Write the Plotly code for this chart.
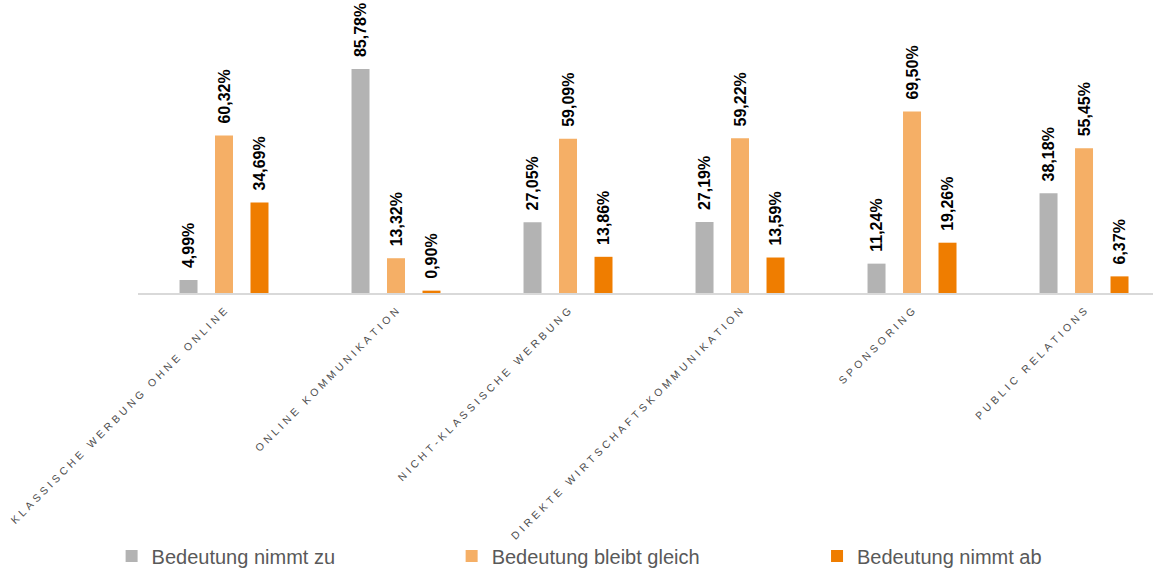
import plotly.graph_objects as go

categories = [
    "KLASSISCHE WERBUNG OHNE ONLINE",
    "ONLINE KOMMUNIKATION",
    "NICHT-KLASSISCHE WERBUNG",
    "DIREKTE WIRTSCHAFTSKOMMUNIKATION",
    "SPONSORING",
    "PUBLIC RELATIONS",
]
nimmt_zu = [4.99, 85.78, 27.05, 27.19, 11.24, 38.18]
bleibt_gleich = [60.32, 13.32, 59.09, 59.22, 69.50, 55.45]
nimmt_ab = [34.69, 0.90, 13.86, 13.59, 19.26, 6.37]

series = [
    ("Bedeutung nimmt zu", nimmt_zu, "#b3b3b3", "legend", -0.026),
    ("Bedeutung bleibt gleich", bleibt_gleich, "#f5af66", "legend2", 0.309),
    ("Bedeutung nimmt ab", nimmt_ab, "#ef7d00", "legend3", 0.669),
]


def letterspaced(label):
    # widen tracking of the axis captions
    out = []
    for word in label.split(" "):
        out.append("\u2004".join(word))
    return "\u2004\u00a0\u2004".join(out)


tick_text = [letterspaced(c) for c in categories]

fig = go.Figure()
legend_layouts = {}
for name, values, color, legend_id, legend_x in series:
    fig.add_trace(go.Bar(
        x=list(range(len(categories))),
        y=values,
        name=name,
        legend=legend_id,
        marker=dict(color=color, line=dict(width=0)),
        texttemplate="\u00a0\u00a0%{y:.2f}%",
        textposition="outside",
        textangle=-90,
        constraintext="none",
        cliponaxis=False,
        textfont=dict(family="Liberation Sans, Arial", size=16, color="#000000", weight="bold"),
    ))
    legend_layouts[legend_id] = dict(
        orientation="h",
        x=legend_x,
        xanchor="left",
        y=-0.8976,
        yanchor="middle",
        bgcolor="rgba(0,0,0,0)",
        font=dict(size=20, color="#595959"),
        itemwidth=30,
    )

fig.update_layout(
    width=1153,
    height=569,
    margin=dict(l=138, r=0, t=0, b=276, autoexpand=False),
    barmode="group",
    bargap=0.381,
    bargroupgap=0.493,
    separators=",.",
    plot_bgcolor="#ffffff",
    paper_bgcolor="#ffffff",
    font=dict(family="Liberation Sans, Arial", color="#595959"),
    showlegend=True,
    xaxis=dict(
        range=[-0.5, 5.401],
        tickmode="array",
        tickvals=list(range(len(categories))),
        ticktext=tick_text,
        tickangle=-45,
        tickfont=dict(size=10.5, color="#4d4d4d"),
        ticklabelstandoff=6,
        showline=True,
        linecolor="#d9d9d9",
        linewidth=2,
        ticks="",
        showgrid=False,
        zeroline=False,
        automargin=False,
    ),
    yaxis=dict(
        range=[0, 112.2],
        visible=False,
        showgrid=False,
        zeroline=False,
    ),
    **legend_layouts,
)

fig.write_html("out.html")
